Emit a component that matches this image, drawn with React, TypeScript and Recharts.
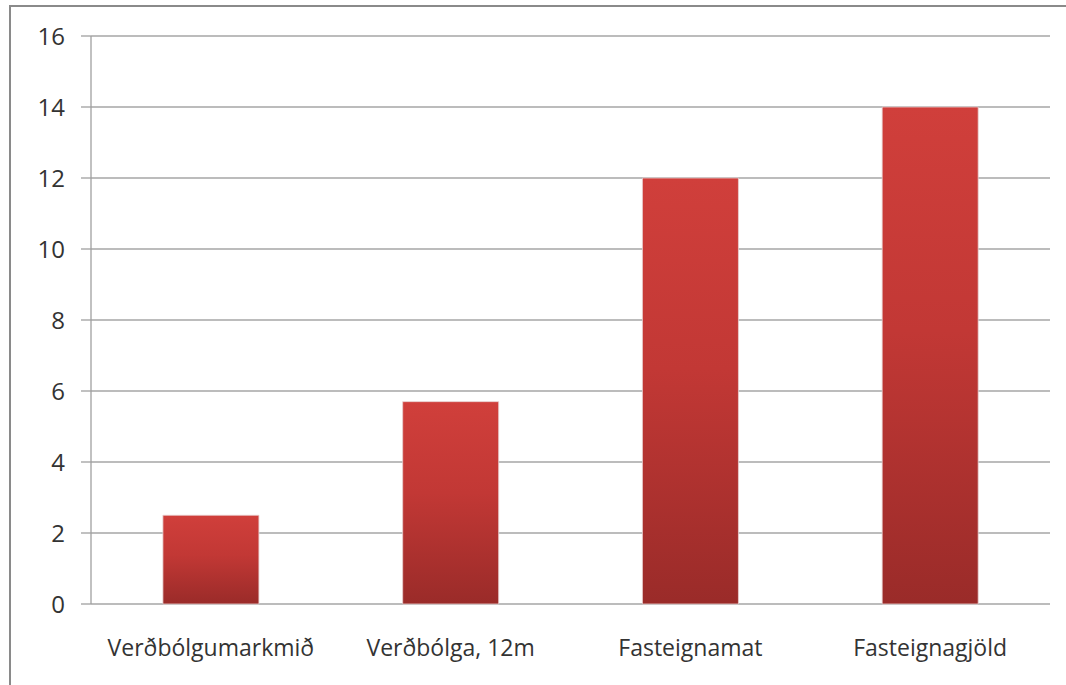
import React from "react";
import { BarChart, Bar, XAxis, YAxis, CartesianGrid } from "recharts";

const categories = ["Verðbólgumarkmið", "Verðbólga, 12m", "Fasteignamat", "Fasteignagjöld"];
const values = [2.5, 5.7, 12, 14];
const yTicks = [0, 2, 4, 6, 8, 10, 12, 14, 16];
const boundaryTicks = [0, 1, 2, 3, 4];

const data = categories.map((name, i) => ({ name, value: values[i] }));

const FONT = "'Open Sans', sans-serif";

export default function App() {
  return (
    <div style={{ position: "absolute", left: 0, top: 0, width: 1066, height: 685, background: "#fff", overflow: "hidden" }}>
      <div
        style={{
          position: "absolute",
          left: 9,
          top: 5,
          width: 1100,
          height: 720,
          borderLeft: "2px solid #8a8a8a",
          borderTop: "2px solid #8a8a8a",
          boxSizing: "border-box",
        }}
      />
      <div style={{ position: "absolute", left: 0, top: 0 }}>
        <BarChart
          width={1066}
          height={685}
          data={data}
          margin={{ top: 36, right: 16, bottom: 0, left: 0 }}
          barCategoryGap="30%"
        >
          <defs>
            <linearGradient id="barGrad" x1="0" y1="0" x2="0" y2="1">
              <stop offset="0%" stopColor="#D03F3B" />
              <stop offset="45%" stopColor="#C23835" />
              <stop offset="100%" stopColor="#9A2B29" />
            </linearGradient>
          </defs>
          <CartesianGrid vertical={false} stroke="#a6a6a6" strokeWidth={1.3} />
          <XAxis
            xAxisId="b"
            type="number"
            domain={[0, 4]}
            ticks={boundaryTicks}
            allowDataOverflow
            height={0}
            tick={false}
            tickSize={10}
            tickLine={{ stroke: "#a0a0a0", strokeWidth: 1.3 }}
            axisLine={{ stroke: "#a0a0a0", strokeWidth: 1.3 }}
          />
          <XAxis
            xAxisId="cat"
            dataKey="name"
            height={81}
            axisLine={false}
            tickLine={false}
            tickMargin={30}
            tick={{ fill: "#333333", fontSize: 23, fontFamily: FONT }}
          />
          <YAxis
            domain={[0, 16]}
            ticks={yTicks}
            width={91}
            tickSize={10}
            tickMargin={16}
            tickLine={{ stroke: "#a0a0a0", strokeWidth: 1.3 }}
            axisLine={{ stroke: "#a0a0a0", strokeWidth: 1.3 }}
            tick={{ fill: "#333333", fontSize: 24, fontFamily: FONT }}
          />
          <Bar xAxisId="cat" dataKey="value" fill="url(#barGrad)" stroke="#e8d0d0" strokeWidth={0.8} isAnimationActive={false} />
        </BarChart>
      </div>
    </div>
  );
}
